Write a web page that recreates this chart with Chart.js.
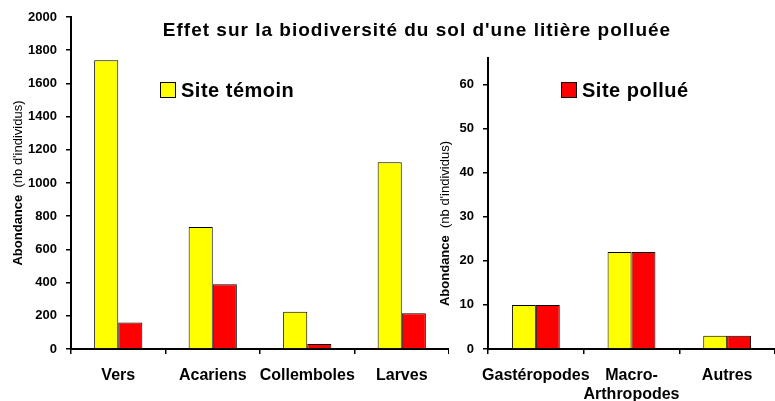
<!DOCTYPE html>
<html>
<head>
<meta charset="utf-8">
<script src="https://cdn.jsdelivr.net/npm/chart.js@4.4.1/dist/chart.umd.min.js"></script>
<style>
  body { margin: 0; background: #fff; }
  #wrap { position: relative; width: 775px; height: 401px; overflow: hidden; font-family: "Liberation Sans", Arial, sans-serif; }
  #titre { position: absolute; left: 0; width: 834px; top: 19px; text-align: center; font-weight: bold; font-size: 19px; letter-spacing: 1px; color: #000; }
  .leg { position: absolute; font-weight: bold; font-size: 20px; letter-spacing: 0.5px; color: #000; line-height: 20px; }
  .leg span { display: inline-block; width: 14px; height: 14px; border: 1px solid #000; vertical-align: -1px; margin-right: 5px; }
  canvas { position: absolute; top: 0; }
</style>
</head>
<body>
<div id="wrap">
  <canvas id="gauche" width="449" height="401" style="left:0"></canvas>
  <canvas id="droite" width="355" height="401" style="left:420px"></canvas>
  <div id="titre">Effet sur la biodiversité du sol d'une litière polluée</div>
  <div class="leg" style="left:160px;top:80px"><span style="background:#ffff00"></span>Site témoin</div>
  <div class="leg" style="left:561px;top:80px"><span style="background:#ff0000"></span>Site pollué</div>
</div>
<script>
// Données
const categoriesGauche = ['Vers', 'Acariens', 'Collemboles', 'Larves'];
const temoinGauche = [1740, 735, 225, 1125];
const polueGauche = [160, 390, 30, 215];
const maxGauche = 2000;
const pasGauche = 200;

const categoriesDroite = ['Gastéropodes', ['Macro-', 'Arthropodes'], 'Autres'];
const temoinDroite = [10, 22, 3];
const polueDroite = [10, 22, 3];
const maxDroite = 66;
const pasDroite = 10;

const police = '"Liberation Sans", Arial, sans-serif';

// Titre d'axe avec "Abondance" en gras et le reste en normal
const titreAxe = {
    id: 'titreAxe',
    afterDraw(chart, args, opts) {
        const { ctx, chartArea } = chart;
        const gras = 'bold 13px ' + police;
        const normal = '13px ' + police;
        const a = 'Abondance';
        const b = "  (nb d'individus)";
        ctx.save();
        ctx.font = gras;
        const wa = ctx.measureText(a).width;
        ctx.font = normal;
        const wb = ctx.measureText(b).width;
        const cy = (chartArea.top + chartArea.bottom) / 2 + opts.decalage;
        ctx.translate(opts.x, cy);
        ctx.rotate(-Math.PI / 2);
        ctx.textBaseline = 'middle';
        ctx.fillStyle = '#000';
        const x0 = -(wa + wb) / 2;
        ctx.font = gras;
        ctx.fillText(a, x0, 0);
        ctx.font = normal;
        ctx.fillText(b, x0 + wa, 0);
        ctx.restore();
    }
};

function config(categories, temoin, polue, max, pas, largeurY, haut, titreX, decalage, pct) {
    return {
        type: 'bar',
        data: {
            labels: categories,
            datasets: [
                { label: 'Site témoin', data: temoin, backgroundColor: '#ffff00', borderColor: '#000', borderWidth: 1 },
                { label: 'Site pollué', data: polue, backgroundColor: '#ff0000', borderColor: '#000', borderWidth: 1 }
            ]
        },
        options: {
            responsive: false,
            animation: false,
            layout: { padding: { top: haut, left: 0, right: 0, bottom: 0 } },
            datasets: { bar: { barPercentage: 1, categoryPercentage: pct } },
            plugins: {
                legend: { display: false },
                tooltip: { enabled: false },
                titreAxe: { x: titreX, decalage: decalage }
            },
            scales: {
                x: {
                    afterFit: s => { s.height = 52; },
                    grid: { display: true, drawOnChartArea: false, drawTicks: true, tickLength: 5, color: '#000', lineWidth: 1.5 },
                    border: { color: '#000', width: 2 },
                    ticks: { color: '#000', padding: 12, maxRotation: 0, autoSkip: false, font: { family: police, size: 16, weight: 'bold' } }
                },
                y: {
                    min: 0,
                    max: max,
                    afterFit: s => { s.width = largeurY; },
                    grid: { display: true, drawOnChartArea: false, drawTicks: true, tickLength: 5, color: '#000', lineWidth: 1.5 },
                    border: { color: '#000', width: 2 },
                    ticks: {
                        stepSize: pas, includeBounds: false, color: '#000', padding: 9,
                        font: { family: police, size: 13, weight: 'bold' },
                        callback: v => String(v)
                    }
                }
            }
        },
        plugins: [titreAxe]
    };
}

document.addEventListener('DOMContentLoaded', () => {
    new Chart(document.getElementById('gauche'),
        config(categoriesGauche, temoinGauche, polueGauche, maxGauche, pasGauche, 71, 17, 18, 0, 0.51));
    new Chart(document.getElementById('droite'),
        config(categoriesDroite, temoinDroite, polueDroite, maxDroite, pasDroite, 68, 58, 25, 20, 0.5));
});
</script>
</body>
</html>
